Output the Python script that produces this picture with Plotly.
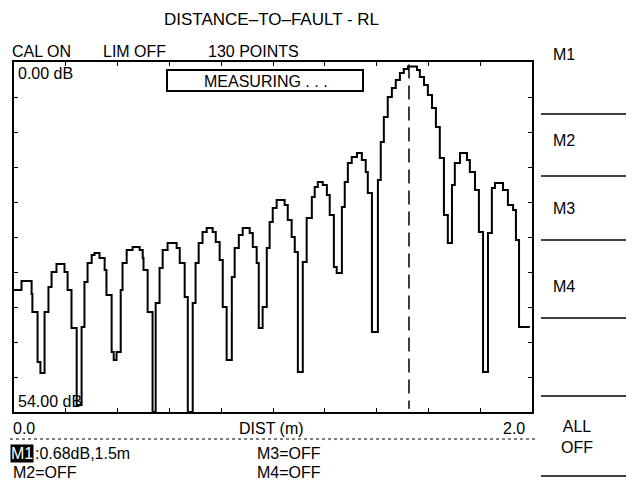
import plotly.graph_objects as go

# trace: distance (m) where each step starts, return loss (dB)
dist_m = [
    0.000, 0.029, 0.068, 0.071, 0.091, 0.102, 0.118, 0.133, 0.145, 0.164,
    0.195, 0.207, 0.222, 0.242, 0.261, 0.272, 0.284, 0.300, 0.311, 0.330,
    0.350, 0.357, 0.377, 0.385, 0.396, 0.412, 0.419, 0.435, 0.458, 0.485,
    0.497, 0.500, 0.516, 0.535, 0.547, 0.562, 0.574, 0.593, 0.628, 0.640,
    0.659, 0.671, 0.690, 0.701, 0.713, 0.728, 0.744, 0.767, 0.779, 0.794,
    0.806, 0.821, 0.841, 0.852, 0.868, 0.883, 0.910, 0.922, 0.937, 0.945,
    0.960, 0.976, 0.987, 0.999, 1.014, 1.045, 1.057, 1.072, 1.084, 1.096,
    1.115, 1.130, 1.150, 1.161, 1.173, 1.192, 1.208, 1.219, 1.235, 1.246,
    1.266, 1.277, 1.289, 1.304, 1.324, 1.343, 1.358, 1.366, 1.382, 1.405,
    1.416, 1.428, 1.443, 1.459, 1.474, 1.490, 1.505, 1.521, 1.556, 1.567,
    1.583, 1.598, 1.614, 1.629, 1.644, 1.660, 1.675, 1.691, 1.702, 1.722,
    1.749, 1.760, 1.780, 1.795, 1.811, 1.830, 1.845, 1.857, 1.888, 1.907,
    1.927, 1.938, 1.950, 1.992,
]
rl_db = [
    35.18, 33.79, 35.79, 38.57, 46.29, 47.98, 38.57, 34.71, 32.40, 31.17,
    32.40, 35.18, 41.04, 52.92, 40.89, 33.94, 31.01, 29.78, 29.47, 30.24,
    32.09, 35.95, 44.74, 45.98, 44.74, 35.18, 31.01, 29.01, 28.54, 29.01,
    30.24, 32.09, 38.57, 54.00, 37.18, 31.78, 29.01, 27.93, 28.70, 31.01,
    36.26, 54.00, 37.18, 31.01, 27.93, 26.23, 25.61, 26.23, 27.77, 30.55,
    37.80, 45.98, 33.17, 28.70, 26.69, 25.61, 26.38, 28.54, 31.01, 41.04,
    37.80, 28.70, 24.69, 22.53, 21.29, 22.06, 24.38, 27.00, 29.31, 47.83,
    30.86, 24.07, 20.83, 19.29, 18.51, 18.98, 20.52, 23.61, 31.63, 32.55,
    22.37, 18.51, 15.58, 14.66, 14.04, 15.12, 16.97, 20.21, 41.66, 18.21,
    12.34, 8.49, 5.40, 4.01, 2.78, 1.70, 1.08, 0.68, 1.23, 2.31,
    3.55, 5.09, 7.10, 10.03, 14.81, 23.61, 27.93, 18.98, 15.58, 14.04,
    15.12, 16.97, 19.75, 26.23, 47.83, 26.38, 19.44, 18.67, 19.75, 22.06,
    22.83, 27.46, 40.89, 40.89,
]

marker_dist = 1.525
dist_ticks = [0.2 * i for i in range(11)]
db_ticks = [5.4 * i for i in range(11)]

FONT = "Liberation Sans"
# the page body adds an 8px margin, so the figure is 8px smaller than the window
OFF = 8
W, H = 634 - OFF, 486 - OFF
L, R, T, B = 14 - OFF, 102, 62 - OFF, 74
PW, PH = W - L - R, H - T - B


def px(x):
    # window pixel -> paper x
    return (x - OFF - L) / PW


def py(y):
    # window pixel -> paper y
    return (H - B - (y - OFF)) / PH


fig = go.Figure()

fig.add_trace(go.Scatter(
    x=dist_m, y=rl_db,
    mode="lines", line=dict(color="black", width=2, shape="hv"),
    hoverinfo="skip", showlegend=False,
))

# marker line
fig.add_shape(type="line", xref="x", yref="y",
              x0=marker_dist, x1=marker_dist, y0=0.4, y1=53.5,
              line=dict(color="black", width=1.5, dash="14px,7px"))

texts = [
    ("DISTANCE–TO–FAULT - RL", 271, 20, "center", 17),
    ("CAL ON", 10, 51, "left", 16),
    ("LIM OFF", 101, 51, "left", 16),
    ("130 POINTS", 206, 51, "left", 16),
    ("0.00 dB", 16, 73, "left", 16),
    ("54.00 dB", 16, 401, "left", 16),
    ("MEASURING . . .", 266, 81, "center", 16),
    ("M1", 564, 55, "center", 16),
    ("M2", 564, 140, "center", 16),
    ("M3", 564, 208, "center", 16),
    ("M4", 564, 286, "center", 16),
    ("ALL<br>OFF", 577, 437, "center", 16),
    ("0.0", 11, 429, "left", 16),
    ("DIST (m)", 271, 429, "center", 16),
    ("2.0", 527, 429, "right", 16),
    (":0.68dB,1.5m", 33, 453, "left", 16),
    ("M3=OFF", 255, 453, "left", 16),
    ("M2=OFF", 11, 472, "left", 16),
    ("M4=OFF", 255, 472, "left", 16),
]
for txt, x, y, anchor, size in texts:
    fig.add_annotation(text=txt, x=px(x), y=py(y), xref="paper", yref="paper",
                       xanchor=anchor, yanchor="middle", showarrow=False,
                       font=dict(family=FONT, size=size, color="black"))

# highlighted marker label
fig.add_annotation(text="M1", x=px(10), y=py(453), xref="paper", yref="paper",
                   xanchor="left", yanchor="middle", showarrow=False,
                   bgcolor="black", borderpad=0,
                   font=dict(family=FONT, size=16, color="white"))

# MEASURING box
fig.add_shape(type="rect", xref="paper", yref="paper",
              x0=px(167), x1=px(363), y0=py(91), y1=py(70),
              line=dict(color="black", width=2))

# softkey separators
for y in [114, 176, 240, 318, 396, 476]:
    fig.add_shape(type="line", xref="paper", yref="paper",
                  x0=px(541), x1=px(634), y0=py(y), y1=py(y),
                  line=dict(color="black", width=1.5))

# line under the axis labels
fig.add_shape(type="line", xref="paper", yref="paper",
              x0=px(10), x1=px(538), y0=py(439), y1=py(439),
              line=dict(color="black", width=1, dash="dot"))

axis = dict(showgrid=False, zeroline=False, showline=True, mirror="ticks",
            linecolor="black", linewidth=2, ticks="inside", ticklen=4,
            tickcolor="black", showticklabels=False, fixedrange=True)

fig.update_layout(
    width=W, height=H,
    margin=dict(l=L, r=R, t=T, b=B),
    paper_bgcolor="white", plot_bgcolor="white",
    xaxis=dict(axis, range=[0, 2], tickvals=dist_ticks),
    yaxis=dict(axis, range=[54, 0], tickvals=db_ticks),
    showlegend=False,
)

fig.write_html("out.html")
